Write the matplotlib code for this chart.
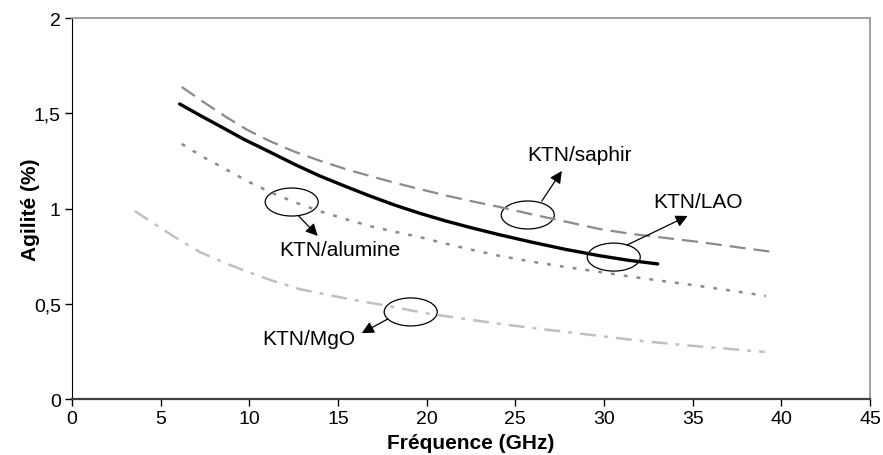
import matplotlib
matplotlib.use('Agg')
import matplotlib.pyplot as plt
from matplotlib.patches import Ellipse

plt.rcParams['font.family'] = ['Liberation Sans', 'DejaVu Sans']
plt.rcParams['lines.scale_dashes'] = False

# values
f_lao = [6.07, 7.2, 8.33, 9.7, 11.15, 12.55, 13.97, 15.4, 16.79, 18.2, 19.61,
         21.1, 22.6, 24.12, 25.9, 27.8, 29.76, 31.4, 33.03]
a_lao = [1.549, 1.49, 1.433, 1.363, 1.297, 1.232, 1.171, 1.117, 1.066, 1.018, 0.975,
         0.934, 0.897, 0.862, 0.824, 0.786, 0.752, 0.728, 0.709]

f_saphir = [6.19, 7.4, 8.7, 9.9, 11.15, 12.5, 14.0, 15.4, 16.79, 18.2, 19.61,
            21.1, 22.6, 24.12, 26.0, 27.9, 29.76, 31.6, 33.5, 35.4, 37.5, 39.52]
a_saphir = [1.638, 1.56, 1.48, 1.412, 1.354, 1.30, 1.25, 1.208, 1.171, 1.135, 1.102,
            1.068, 1.037, 1.008, 0.968, 0.93, 0.892, 0.866, 0.845, 0.824, 0.797, 0.772]

f_alumine = [6.19, 7.4, 8.7, 9.9, 11.15, 12.5, 14.0, 15.4, 16.79, 18.2, 19.61,
             21.1, 22.6, 24.12, 26.0, 27.9, 29.76, 31.6, 33.5, 35.4, 37.3, 39.13]
a_alumine = [1.339, 1.27, 1.205, 1.143, 1.087, 1.035, 0.985, 0.945, 0.908, 0.878, 0.850,
             0.815, 0.782, 0.751, 0.72, 0.692, 0.667, 0.641, 0.617, 0.593, 0.567, 0.541]

f_mgo = [3.54, 4.8, 6.0, 7.2, 8.6, 10.0, 11.4, 12.84, 14.5, 16.2, 17.92, 19.1,
         20.34, 22.7, 25.0, 27.4, 29.76, 32.1, 34.5, 36.8, 39.06]
a_mgo = [0.987, 0.91, 0.838, 0.772, 0.715, 0.664, 0.618, 0.577, 0.545, 0.515, 0.487, 0.465,
         0.445, 0.413, 0.384, 0.357, 0.331, 0.305, 0.283, 0.265, 0.247]

x_ticks = [0, 5, 10, 15, 20, 25, 30, 35, 40, 45]
y_ticks = [0, 0.5, 1, 1.5, 2]
y_labels = ['0', '0,5', '1', '1,5', '2']

fig = plt.figure(figsize=(8.83, 4.56), dpi=100)
ax = fig.add_axes([0.0815, 0.1228, 0.9038, 0.8355])

ax.plot(f_saphir, a_saphir, color='#8a8a8a', lw=1.6, dashes=(11.5, 5.8))
ax.plot(f_alumine, a_alumine, color='#8a8a8a', lw=1.8, dashes=(2.8, 6.5))
ax.plot(f_mgo, a_mgo, color='#c0c0c0', lw=1.8, dashes=(11.5, 5.8, 2.8, 5.8))
ax.plot(f_lao, a_lao, color='black', lw=2.4, solid_capstyle='round')

ax.set_xlim(0, 45)
ax.set_ylim(0, 2)
ax.set_xticks(x_ticks)
ax.set_yticks(y_ticks)
ax.set_yticklabels(y_labels)
ax.tick_params(labelsize=14, direction='out', length=5, width=1, pad=3)

ax.spines['left'].set_color('black')
ax.spines['bottom'].set_color('#404040')
ax.spines['bottom'].set_linewidth(1.6)
ax.spines['top'].set_color('#a0a0a0')
ax.spines['right'].set_color('#a0a0a0')
ax.spines['top'].set_linewidth(1.4)
ax.spines['right'].set_linewidth(1.4)

ax.set_xlabel('Fréquence (GHz)', fontsize=15, fontweight='bold', labelpad=4)
ax.set_ylabel('Agilité (%)', fontsize=15, fontweight='bold')
ax.yaxis.set_label_coords(-0.040, 0.5)

# ellipses, arrows and labels
notes = [
    ('KTN/saphir', (25.70, 0.966), (26.49, 1.039), (27.62, 1.197), (28.64, 1.286)),
    ('KTN/LAO', (30.55, 0.745), (31.29, 0.808), (34.72, 0.961), (35.29, 1.039)),
    ('KTN/alumine', (12.39, 1.034), (12.78, 0.961), (13.86, 0.856), (15.10, 0.787)),
    ('KTN/MgO', (19.10, 0.457), (17.81, 0.420), (16.34, 0.346), (13.35, 0.315)),
]
for label, centre, start, tip, pos in notes:
    ax.add_patch(Ellipse(centre, 2.99, 0.147, fill=False, ec='black', lw=0.9))
    ax.annotate('', xy=tip, xytext=start,
                arrowprops=dict(arrowstyle='-|>', color='black', lw=0.9,
                                mutation_scale=18, shrinkA=0, shrinkB=0))
    ax.text(pos[0], pos[1], label, fontsize=15, ha='center', va='center')

fig.savefig('out.png', dpi=100)
